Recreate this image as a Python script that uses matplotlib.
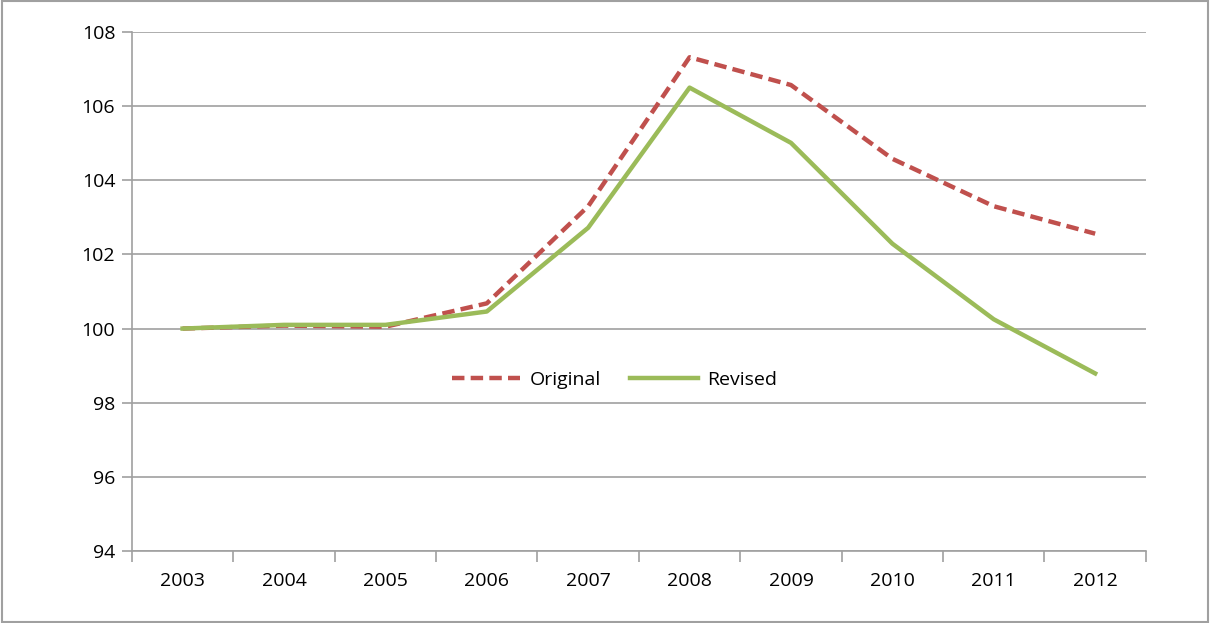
import matplotlib.pyplot as plt
from matplotlib.patches import Rectangle

years = ['2003', '2004', '2005', '2006', '2007', '2008', '2009', '2010', '2011', '2012']
original = [100.0, 100.08, 100.05, 100.68, 103.3, 107.32, 106.57, 104.58, 103.3, 102.56]
revised = [100.0, 100.1, 100.1, 100.46, 102.72, 106.5, 105.01, 102.29, 100.25, 98.79]

plt.rcParams['font.family'] = ['Open Sans', 'DejaVu Sans']

fig = plt.figure(figsize=(12.1, 6.23), dpi=100)
ax = fig.add_axes([0.109, 0.1156, 0.838, 0.833])

x = list(range(len(years)))
ax.plot(x, original, color='#C0504D', lw=3.2, ls=(0, (2.8, 1.4)), label='Original')
ax.plot(x, revised, color='#9BBB59', lw=3.2, label='Revised')

ax.set_xlim(-0.5, len(years) - 0.5)
ax.set_ylim(94, 108)
ax.set_yticks(range(94, 109, 2))
ax.set_xticks(x)
ax.set_xticklabels(years)
ax.set_xticks([i - 0.5 for i in range(len(years) + 1)], minor=True)
ax.tick_params(axis='x', which='major', length=0, pad=15, labelsize=14)
ax.tick_params(axis='x', which='minor', length=8, color='#A0A0A0', width=1.2)
ax.tick_params(axis='y', length=7, color='#A0A0A0', width=1.2, labelsize=14, pad=5)
ax.grid(axis='y', color='#A0A0A0', lw=1.2)
ax.set_axisbelow(True)
for side in ['top', 'right']:
    ax.spines[side].set_visible(False)
for side in ['left', 'bottom']:
    ax.spines[side].set_color('#A0A0A0')
    ax.spines[side].set_linewidth(1.2)

ax.legend(loc='center', bbox_to_anchor=(0.476, 0.329), ncol=2, frameon=False,
          fontsize=14, handlelength=3.5, columnspacing=1.5, handletextpad=0.5)

fig.patches.append(Rectangle((0.002, 0.002), 0.996, 0.996, transform=fig.transFigure,
                             fill=False, edgecolor='#A0A0A0', lw=1.5))

fig.savefig('out.png', dpi=100)
